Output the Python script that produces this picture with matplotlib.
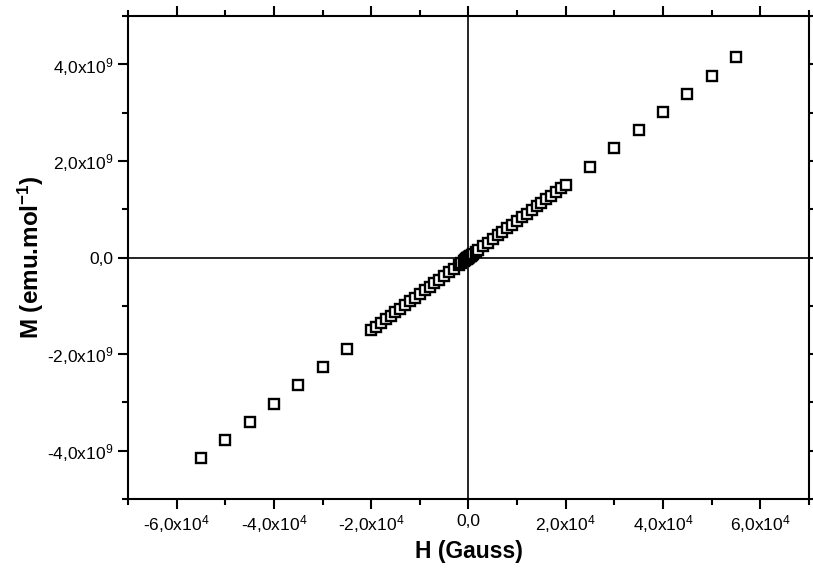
import matplotlib
matplotlib.use('Agg')
import matplotlib.pyplot as plt
from matplotlib.ticker import MultipleLocator, FixedLocator, FixedFormatter

plt.rcParams['font.family'] = ['Liberation Sans', 'DejaVu Sans']
plt.rcParams['mathtext.fontset'] = 'custom'
plt.rcParams['mathtext.rm'] = 'Liberation Sans'
plt.rcParams['mathtext.bf'] = 'Liberation Sans:bold'
plt.rcParams['mathtext.default'] = 'regular'

# field (Gauss) and magnetisation (emu/mol)
h_field = [-55000, -50000, -45000, -40000, -35000, -30000, -25000,
           -20000, -19000, -18000, -17000, -16000, -15000, -14000, -13000,
           -12000, -11000, -10000, -9000, -8000, -7000, -6000, -5000,
           -4000, -3000, -2000, -1500, -1000, -750, -500, -300, -200, -100,
           0, 100, 200, 300, 500, 750, 1000, 1500, 2000,
           3000, 4000, 5000, 6000, 7000, 8000, 9000, 10000, 11000,
           12000, 13000, 14000, 15000, 16000, 17000, 18000, 19000, 20000,
           25000, 30000, 35000, 40000, 45000, 50000, 55000]
m_emu = [-4.16e9, -3.77e9, -3.40e9, -3.03e9, -2.65e9, -2.26e9, -1.89e9,
         -1.50e9, -1.43e9, -1.35e9, -1.28e9, -1.21e9, -1.13e9, -1.06e9, -0.98e9,
         -0.91e9, -0.83e9, -0.76e9, -0.68e9, -0.61e9, -0.53e9, -0.46e9, -0.38e9,
         -0.31e9, -0.23e9, -0.16e9, -0.12e9, -0.08e9, -0.06e9, -0.04e9, -0.03e9, -0.02e9, -0.01e9,
         0.0, 0.01e9, 0.02e9, 0.03e9, 0.04e9, 0.06e9, 0.08e9, 0.12e9, 0.16e9,
         0.23e9, 0.31e9, 0.38e9, 0.46e9, 0.53e9, 0.61e9, 0.68e9, 0.76e9, 0.83e9,
         0.91e9, 0.98e9, 1.06e9, 1.13e9, 1.21e9, 1.28e9, 1.35e9, 1.43e9, 1.50e9,
         1.88e9, 2.26e9, 2.63e9, 3.01e9, 3.38e9, 3.76e9, 4.15e9]

x_ticks = [-60000, -40000, -20000, 0, 20000, 40000, 60000]
x_labels = [r'-6,0x10$^4$', r'-4,0x10$^4$', r'-2,0x10$^4$', '0,0',
            r'2,0x10$^4$', r'4,0x10$^4$', r'6,0x10$^4$']
y_ticks = [-4e9, -2e9, 0, 2e9, 4e9]
y_labels = [r'-4,0x10$^9$', r'-2,0x10$^9$', '0,0', r'2,0x10$^9$', r'4,0x10$^9$']

fig = plt.figure(figsize=(8.13, 5.76), dpi=100)
ax = fig.add_axes([0.1574, 0.1337, 0.8376, 0.8385])

ax.axhline(0, color='black', lw=1.2, zorder=1)
ax.axvline(0, color='black', lw=1.2, zorder=1)
ax.plot(h_field, m_emu, linestyle='none', marker='s', markersize=6.5,
        markerfacecolor='white', markeredgecolor='black', markeredgewidth=1.7,
        zorder=3)

ax.set_xlim(-70000, 70000)
ax.set_ylim(-5e9, 5e9)

ax.xaxis.set_major_locator(FixedLocator(x_ticks))
ax.xaxis.set_major_formatter(FixedFormatter(x_labels))
ax.xaxis.set_minor_locator(MultipleLocator(10000))
ax.yaxis.set_major_locator(FixedLocator(y_ticks))
ax.yaxis.set_major_formatter(FixedFormatter(y_labels))
ax.yaxis.set_minor_locator(MultipleLocator(1e9))

ax.tick_params(which='both', direction='out', top=True, right=True,
               labelsize=12.5, width=1.5)
ax.tick_params(which='major', length=7)
ax.tick_params(which='minor', length=4.5)
for sp in ax.spines.values():
    sp.set_linewidth(1.5)

ax.set_xlabel('H (Gauss)', fontsize=16.5, fontweight='bold', labelpad=3)
ax.set_ylabel(r'M (emu.mol$^{-1}$)', fontsize=17.5, fontweight='bold', labelpad=1)

fig.savefig('out.png', dpi=100)
